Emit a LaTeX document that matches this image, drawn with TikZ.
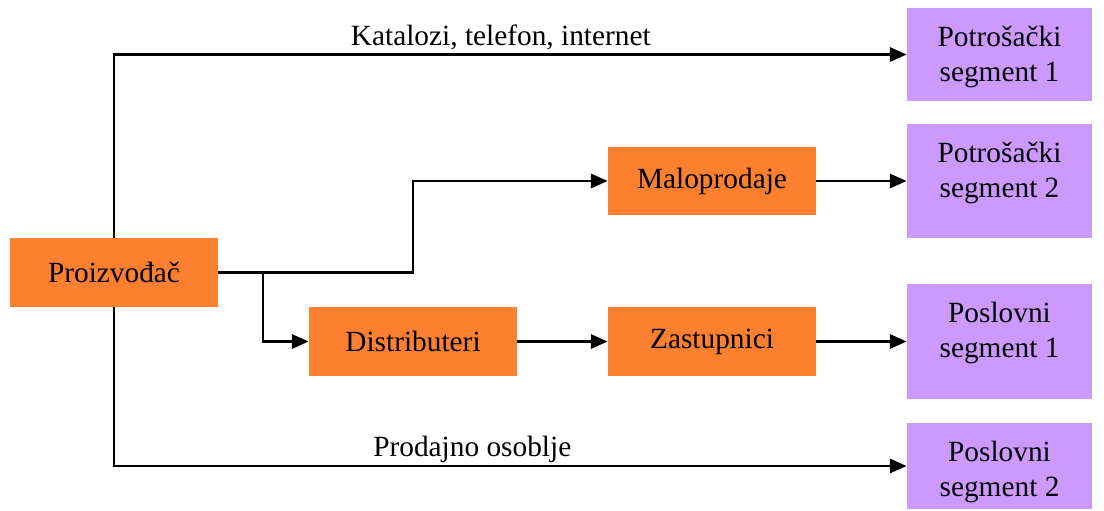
\documentclass[tikz,border=0pt]{standalone}
\usepackage{fontspec}
\setmainfont{Liberation Serif}
\usetikzlibrary{arrows.meta}
\definecolor{kanalnar}{RGB}{253,127,48}
\definecolor{segljub}{RGB}{204,153,255}
\begin{document}
\begin{tikzpicture}[x=0.02cm, y=-0.02cm, font=\fontsize{16.7}{20.2}\selectfont,
    >={Triangle[length=9.5pt,width=8pt]},
    kanal/.style={fill=kanalnar, minimum width=4.16cm, minimum height=1.38cm, inner sep=0pt},
    segment/.style={fill=segljub, minimum width=3.7cm, inner sep=0pt},
    segtekst/.style={label={[anchor=north, align=center, inner sep=0pt, yshift=-0.36cm]north:{#1}}},
    tok/.style={->, line width=1.5pt},
    natpis/.style={anchor=base, yshift=0.19cm}]
    % kanali prodaje: proizvodac -> posrednici -> trzisni segmenti
    \useasboundingbox (0,0) rectangle (1104,510);
    \node[kanal] (proizv) at (114,272.5) {Proizvođač};
    \node[kanal] (malo) at (712,181) {Maloprodaje};
    \node[kanal] (distr) at (413,341.5) {Distributeri};
    \node[kanal] (zast) at (712,341.5) {Zastupnici};
    \node[segment, minimum height=1.86cm, segtekst={Potrošački\\segment 1}] (potr1) at (999.5,54.5) {};
    \node[segment, minimum height=2.28cm, segtekst={Potrošački\\segment 2}] (potr2) at (999.5,181) {};
    \node[segment, minimum height=2.30cm, segtekst={Poslovni\\segment 1}] (posl1) at (999.5,341.5) {};
    \node[segment, minimum height=1.72cm, segtekst={Poslovni\\segment 2}] (posl2) at (999.5,466) {};
    \coordinate (grana) at (263,272.5);
    % direktni kanali
    \draw[tok] (proizv.north) |- node[natpis, pos=0.744] {Katalozi, telefon, internet} (potr1.west);
    \draw[tok] (proizv.south) |- node[natpis, pos=0.726] {Prodajno osoblje} (posl2.west);
    % posredni kanali
    \draw[tok] (proizv.east) -- (proizv.east -| distr) |- (malo.west);
    \draw[tok] (grana) |- (distr.west);
    \draw[tok] (distr) -- (zast);
    \draw[tok] (malo) -- (potr2);
    \draw[tok] (zast) -- (posl1);
  \end{tikzpicture}
\end{document}
